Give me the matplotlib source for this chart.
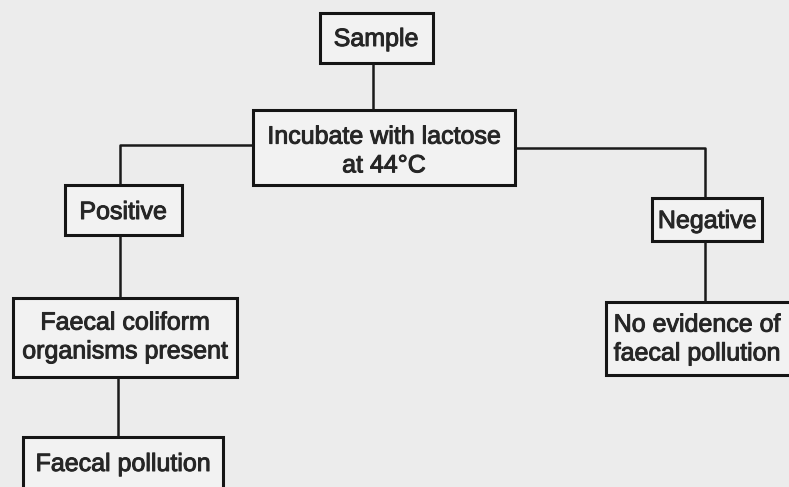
import matplotlib
matplotlib.use('Agg')
import matplotlib.pyplot as plt
import matplotlib.patheffects as pe
from matplotlib.patches import Rectangle

# box texts of the flow chart
labels = ['Sample', 'Incubate with lactose\nat 44°C', 'Positive', 'Negative',
          'Faecal coliform\norganisms present', 'No evidence of\nfaecal pollution',
          'Faecal pollution']

# box frames in pixels: left, top, right, bottom
boxes = [(320, 13, 433, 63), (253, 110, 515, 185), (65, 185, 182, 235),
         (652, 198, 762, 241), (13, 298, 237, 377), (606, 302, 800, 375),
         (23, 437, 223, 492)]
text_xy = [(376, 39), (384, 151), (123, 212), (707, 221), (125, 337), (697, 339), (123, 464)]

# connector polylines
links = [[(373, 63), (373, 110)],
         [(253, 145), (120, 145), (120, 185)],
         [(515, 148), (705, 148), (705, 198)],
         [(120, 235), (120, 298)],
         [(705, 241), (705, 302)],
         [(118, 377), (118, 437)]]

fig = plt.figure(figsize=(7.89, 4.87), dpi=100)
fig.patch.set_facecolor('#ececec')
ax = fig.add_axes([0, 0, 1, 1])
ax.set_xlim(0, 789)
ax.set_ylim(487, 0)
ax.axis('off')

for pts in links:
    xs = [p[0] for p in pts]
    ys = [p[1] for p in pts]
    ax.plot(xs, ys, color='#1a1a1a', lw=1.8, solid_capstyle='butt')

for (l, t, r, b), lab, (tx, ty) in zip(boxes, labels, text_xy):
    ax.add_patch(Rectangle((l, t), r - l, b - t, facecolor='#f2f2f2',
                           edgecolor='#151515', lw=2.2))
    ax.text(tx, ty, lab, ha='center', va='center', fontsize=18, family='Liberation Sans',
            color='#262626', linespacing=1.25,
            path_effects=[pe.withStroke(linewidth=0.7, foreground='#262626')])

fig.savefig('out.png', dpi=100, facecolor=fig.get_facecolor())
